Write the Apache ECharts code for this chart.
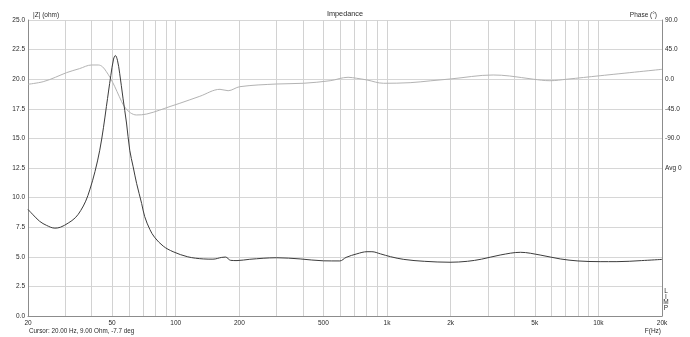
<!DOCTYPE html>
<html>
<head>
<meta charset="utf-8">
<script src="https://cdn.jsdelivr.net/npm/echarts@6/dist/echarts.min.js"></script>
<style>
html,body{margin:0;padding:0;background:#fff;}
#chart{width:690px;height:337px;}
</style>
</head>
<body>
<div id="chart"></div>
<script>
// Impedance magnitude: [frequency Hz, ohm]
const impedance = [
  [20, 9.0], [21, 8.6], [22.7, 8.0], [24.5, 7.65], [26.8, 7.42], [28.5, 7.5],
  [31, 7.85], [33.5, 8.3], [35.5, 8.9], [37.5, 9.7], [39.2, 10.65], [41.5, 12.2],
  [43.7, 14.0], [45.5, 15.9], [47, 17.7], [49.3, 20.3], [50.8, 21.7], [51.8, 22.0],
  [53, 21.6], [54.3, 20.5], [56.3, 18.4], [58.5, 16.3], [60.6, 14.0], [62.9, 12.6],
  [65.3, 11.2], [69.0, 9.5], [71.3, 8.4], [75.5, 7.3], [79.4, 6.65], [87.3, 5.9],
  [97.2, 5.43], [114, 5.0], [135, 4.82], [150, 4.8], [165, 4.95], [172, 4.98],
  [182, 4.7], [195, 4.68], [224, 4.79], [300, 4.92], [388, 4.82], [500, 4.66],
  [598, 4.65], [640, 4.95], [720, 5.25], [804, 5.43], [848, 5.43], [930, 5.25],
  [1038, 5.01], [1200, 4.78], [1500, 4.62], [1986, 4.54], [2400, 4.62], [2800, 4.8],
  [3430, 5.15], [4280, 5.38], [5300, 5.15], [6600, 4.82], [8000, 4.65], [10190, 4.59],
  [12240, 4.59], [16000, 4.68], [20000, 4.78]
];
// Phase: [frequency Hz, degrees]
const phase = [
  [20, -7.7], [23.6, -3.8], [27, 3], [30.4, 9.9], [35, 16], [40, 21.6], [43, 21.6],
  [45, 19], [47, 11.4], [49, 2], [51.5, -11.4], [54, -26], [57.2, -41.8], [61, -51],
  [65.3, -54.4], [72.8, -53], [84, -47], [94, -41.5], [104.6, -36.6], [130, -26],
  [162, -15.4], [177, -17.5], [201, -11.4], [300, -7.3], [402, -6.2], [538, -2.3],
  [654, 2.9], [718, 1.4], [804, -1.2], [962, -6.2], [1286, -5.3], [1600, -2.5],
  [1986, 0.3], [3180, 6.4], [3800, 4.9], [4920, 0], [5900, -2.3], [7100, 0],
  [10190, 5.3], [20000, 15]
];
// Frequency grid lines and labelled ticks
const gridFreqs = [20,30,40,50,60,70,80,90,100,200,300,400,500,600,700,800,900,
  1000,2000,3000,4000,5000,6000,7000,8000,9000,10000,20000];
const freqLabels = [20,50,100,200,500,1000,2000,5000,10000,20000];
// Right axis labels (degrees -> text)
const phaseTickValues = [90, 45, 0, -45, -90, -135];
const phaseTickTexts = ['90.0', '45.0', '0.0', '-45.0', '-90.0', 'Avg 0'];

const FONT = "'Liberation Sans', Arial, sans-serif";
const TXT = '#2a2a2a';

const chart = echarts.init(document.getElementById('chart'), null, {renderer: 'canvas'});
chart.setOption({
  animation: false,
  backgroundColor: '#fff',
  grid: {left: 28, right: 28, top: 20, bottom: 21, containLabel: false},
  xAxis: {
    type: 'log', logBase: 10, min: 20, max: 20000,
    axisLine: {show: true, lineStyle: {color: '#8c8c8c', width: 1}},
    axisTick: {show: false, customValues: gridFreqs},
    splitLine: {show: true, lineStyle: {color: '#d2d2d2', width: 1}},
    minorSplitLine: {show: false},
    axisLabel: {
      customValues: freqLabels, margin: 4, fontSize: 6.5, fontFamily: FONT, color: TXT,
      formatter: v => v >= 1000 ? (v / 1000) + 'k' : String(v)
    }
  },
  yAxis: [{
    type: 'value', min: 0, max: 25, interval: 2.5,
    axisLine: {show: true, lineStyle: {color: '#8c8c8c'}},
    axisTick: {show: false},
    splitLine: {show: true, lineStyle: {color: '#d6d6d6', width: 1}},
    axisLabel: {margin: 3, fontSize: 6.5, fontFamily: FONT, color: TXT,
      formatter: v => v.toFixed(1)}
  }, {
    type: 'value', min: -360, max: 90, interval: 45, position: 'right',
    axisLine: {show: true, lineStyle: {color: '#8c8c8c'}},
    axisTick: {show: false},
    splitLine: {show: false},
    axisLabel: {margin: 3, fontSize: 6.5, fontFamily: FONT, color: TXT,
      showMinLabel: true, showMaxLabel: true,
      formatter: v => {
        const i = phaseTickValues.indexOf(v);
        return i >= 0 ? phaseTickTexts[i] : '';
      }}
  }],
  series: [{
    name: 'Phase', type: 'line', yAxisIndex: 1, data: phase,
    showSymbol: false, symbol: 'none', smooth: 0.35,
    lineStyle: {color: '#b3b3b3', width: 1}
  }, {
    name: '|Z|', type: 'line', yAxisIndex: 0, data: impedance,
    showSymbol: false, symbol: 'none', smooth: 0.35,
    lineStyle: {color: '#3c3c3c', width: 1}
  }],
  graphic: [
    {type: 'text', x: 345, y: 14, style: {text: 'Impedance', font: '7.3px ' + FONT, fill: TXT, textAlign: 'center', textVerticalAlign: 'middle'}},
    {type: 'text', x: 33, y: 15, style: {text: '|Z| (ohm)', font: '6.5px ' + FONT, fill: TXT, textAlign: 'left', textVerticalAlign: 'middle'}},
    {type: 'text', x: 657, y: 15, style: {text: 'Phase (°)', font: '6.5px ' + FONT, fill: TXT, textAlign: 'right', textVerticalAlign: 'middle'}},
    {type: 'text', x: 29, y: 331.5, style: {text: 'Cursor: 20.00 Hz, 9.00 Ohm, -7.7 deg', font: '6.3px ' + FONT, fill: TXT, textAlign: 'left', textVerticalAlign: 'middle'}},
    {type: 'text', x: 661, y: 331.5, style: {text: 'F(Hz)', font: '6.5px ' + FONT, fill: TXT, textAlign: 'right', textVerticalAlign: 'middle'}},
    {type: 'text', x: 666, y: 291.5, style: {text: 'L', font: '6.5px ' + FONT, fill: TXT, textAlign: 'center', textVerticalAlign: 'middle'}},
    {type: 'text', x: 666, y: 297, style: {text: 'I', font: '6.5px ' + FONT, fill: TXT, textAlign: 'center', textVerticalAlign: 'middle'}},
    {type: 'text', x: 666, y: 302.5, style: {text: 'M', font: '6.5px ' + FONT, fill: TXT, textAlign: 'center', textVerticalAlign: 'middle'}},
    {type: 'text', x: 666, y: 308, style: {text: 'P', font: '6.5px ' + FONT, fill: TXT, textAlign: 'center', textVerticalAlign: 'middle'}}
  ]
});
</script>
</body>
</html>
